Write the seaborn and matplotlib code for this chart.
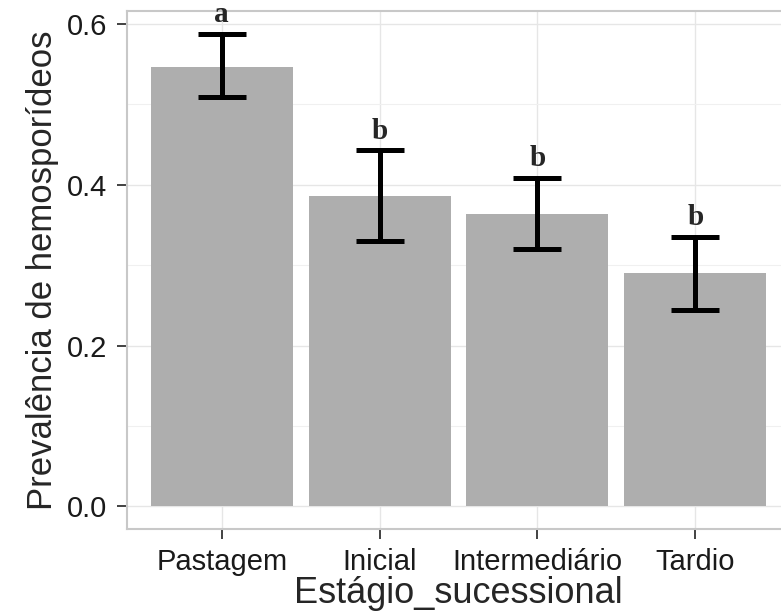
import matplotlib
matplotlib.use("Agg")
import matplotlib.pyplot as plt
import seaborn as sns
import pandas as pd
import numpy as np

categories = ["Pastagem", "Inicial", "Intermediário", "Tardio"]
prevalence = [0.547, 0.386, 0.364, 0.290]
err_low = [0.509, 0.330, 0.320, 0.244]
err_high = [0.588, 0.443, 0.409, 0.335]
letters = ["a", "b", "b", "b"]

df = pd.DataFrame({"Estágio_sucessional": categories, "Prevalência": prevalence})

sns.set_theme(style="white")
plt.rcParams["font.family"] = ["Liberation Sans", "DejaVu Sans"]

fig = plt.figure(figsize=(7.81, 6.14), dpi=100)
W, H = 781, 614
ax = fig.add_axes([127 / W, 1 - 529 / H, (790 - 127) / W, (529 - 11) / H])

sns.barplot(data=df, x="Estágio_sucessional", y="Prevalência", order=categories,
            color="#AEAEAE", saturation=1, width=0.9, errorbar=None,
            linewidth=0, ax=ax, zorder=2)

xs = np.arange(len(categories))
p = np.array(prevalence)
lo = p - np.array(err_low)
hi = np.array(err_high) - p
ax.errorbar(xs, p, yerr=[lo, hi], fmt="none", ecolor="black", elinewidth=3.6,
            capsize=17, capthick=3.6, zorder=3)

for x, top, lab in zip(xs, err_high, letters):
    ax.text(x, top + 0.007, lab, ha="center", va="bottom", fontsize=21,
            fontweight="bold", family=["Liberation Serif", "DejaVu Serif"], zorder=4)

ax.set_xlim(-0.6, 3.6)
ax.set_ylim(-0.028, 0.616)
ax.set_yticks([0.0, 0.2, 0.4, 0.6])
ax.set_yticklabels(["0.0", "0.2", "0.4", "0.6"])
ax.set_yticks([0.1, 0.3, 0.5], minor=True)

ax.grid(True, which="major", color="#E6E6E6", linewidth=1.0, zorder=0)
ax.grid(True, which="minor", axis="y", color="#F0F0F0", linewidth=0.8, zorder=0)
ax.set_axisbelow(True)

for name, s in ax.spines.items():
    s.set_visible(name != "right")
    s.set_color("#C8C8C8")
    s.set_linewidth(1.5)

ax.tick_params(axis="both", which="major", direction="out", length=7, width=1.3,
               color="#333333", labelsize=21, labelcolor="#1a1a1a", pad=7,
               bottom=True, left=True)
ax.tick_params(axis="x", which="major", pad=7)
ax.tick_params(axis="y", which="minor", length=0)

ax.set_xlabel("Estágio_sucessional", fontsize=26, labelpad=0)
ax.set_ylabel("Prevalência de hemosporídeos", fontsize=25, labelpad=6)

fig.savefig("out.png", dpi=100)
